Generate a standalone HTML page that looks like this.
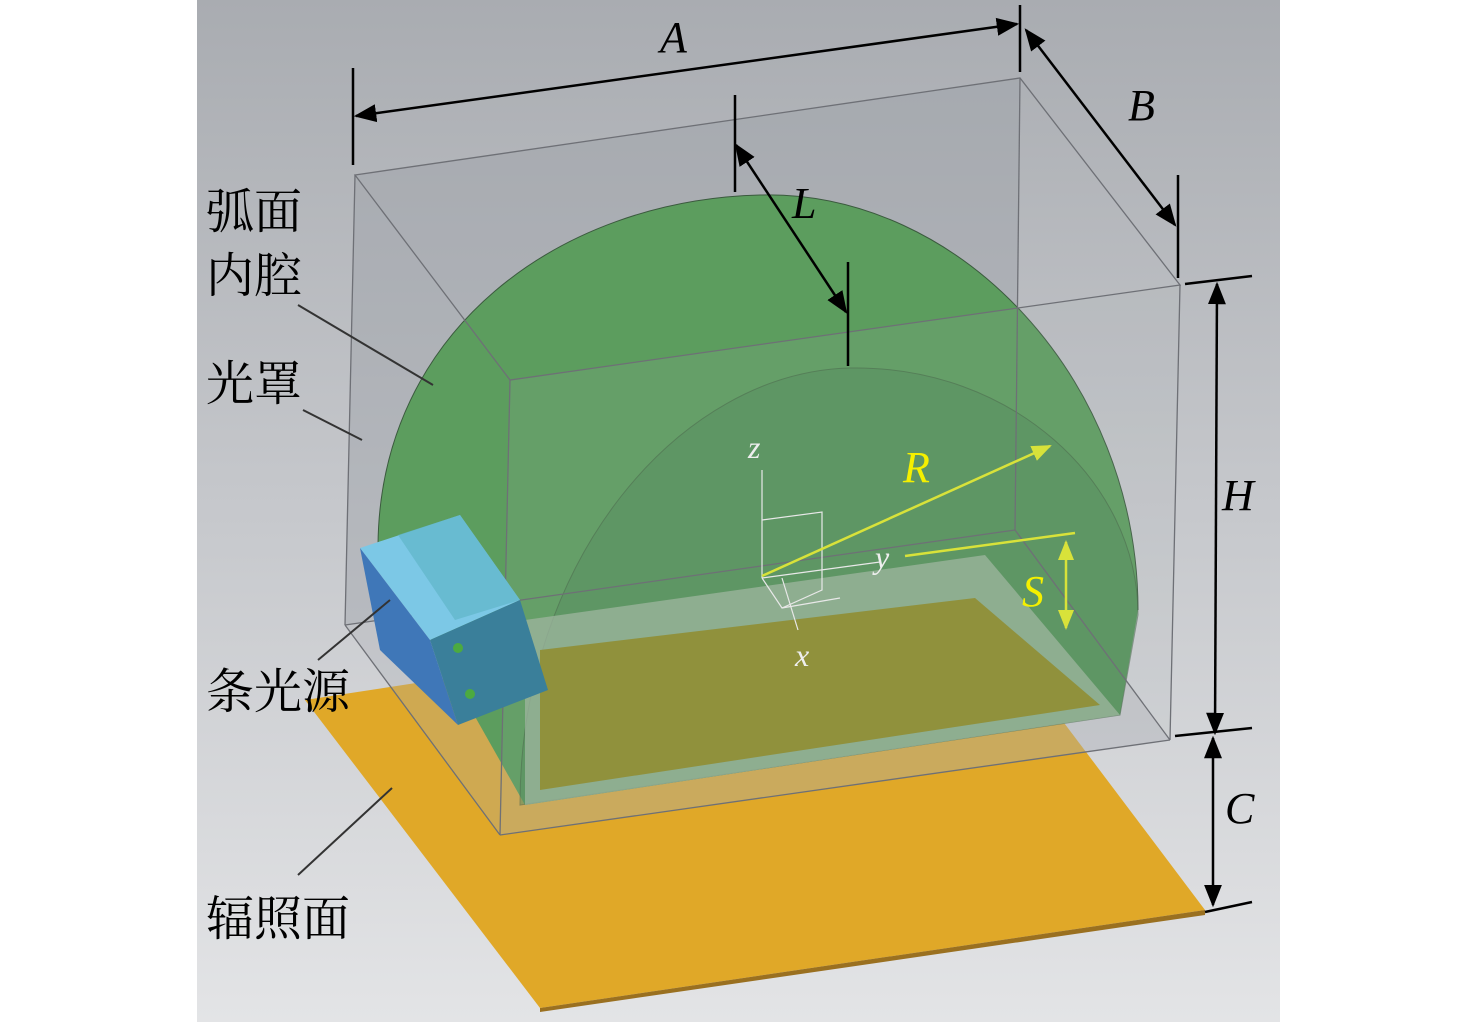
<!DOCTYPE html>
<html><head><meta charset="utf-8"><style>
html,body{margin:0;padding:0;background:#fff;}
svg{display:block}
</style></head><body>
<svg width="1476" height="1022" viewBox="0 0 1476 1022" xmlns="http://www.w3.org/2000/svg">
<defs>
<linearGradient id="bg" x1="0" y1="0" x2="0" y2="1">
<stop offset="0" stop-color="#a9acb1"/>
<stop offset="0.5" stop-color="#c6c8cc"/>
<stop offset="1" stop-color="#e3e4e6"/>
</linearGradient>
<marker id="ar" viewBox="0 0 10 10" refX="9" refY="5" markerWidth="9" markerHeight="9" orient="auto-start-reverse"><path d="M0,1 L10,5 L0,9 z" fill="#000"/></marker>
<marker id="ay" viewBox="0 0 10 10" refX="9" refY="5" markerWidth="8" markerHeight="8" orient="auto-start-reverse"><path d="M0,1 L10,5 L0,9 z" fill="#d8e23a"/></marker>
</defs>
<rect x="197" y="0" width="1083" height="1022" fill="url(#bg)"/>
<!-- irradiation plane -->
<polygon points="305,700 970,598 1205,910 540,1008" fill="#e0a828"/>
<polygon points="540,1008 1205,910 1205,915 540,1012" fill="#9a7020"/>
<!-- box back/base faces -->
<polygon points="355,175 1020,78 1015,530 345,625" fill="#9ea1a8" opacity="0.45"/>
<polygon points="345,625 1015,530 1170,740 500,835" fill="#a8acb2" opacity="0.3"/>
<!-- green dome -->
<path d="M378,545 C380,330 560,200 760,195 C960,190 1138,380 1138,610 L1120,715 L525,805 Z" fill="#5c9d5e"/>
<path d="M520,805 C520,560 680,372 850,368 C1010,365 1138,480 1138,615 L1120,715 Z" fill="#4f8a55" opacity="0.55" stroke="#3b5a3e" stroke-width="1"/>
<path d="M378,545 C380,330 560,200 760,195 C960,190 1138,380 1138,610" fill="none" stroke="#3b5a3e" stroke-width="1"/>
<!-- base inner strip -->
<polygon points="525,620 985,555 1120,715 525,805" fill="#9cb59c" opacity="0.75"/>
<polygon points="540,650 975,598 1100,705 540,790" fill="#8c8c2c"/>
<!-- box front faces -->
<polygon points="510,380 1180,285 1170,740 500,835" fill="#b0b3b8" opacity="0.12"/>
<g fill="none" stroke="#6e7076" stroke-width="1.3">
<polygon points="355,175 1020,78 1180,285 510,380"/>
<line x1="355" y1="175" x2="345" y2="625"/>
<line x1="1020" y1="78" x2="1015" y2="530"/>
<line x1="1180" y1="285" x2="1170" y2="740"/>
<line x1="510" y1="380" x2="500" y2="835"/>
<line x1="345" y1="625" x2="1015" y2="530"/>
<line x1="345" y1="625" x2="500" y2="835"/>
<line x1="500" y1="835" x2="1170" y2="740"/>
<line x1="1015" y1="530" x2="1170" y2="740"/>
</g>
<!-- light source -->
<polygon points="360,548 460,515 520,600 430,640" fill="#7cc8e6"/>
<polygon points="360,548 430,640 458,725 380,650" fill="#3f77b8"/>
<polygon points="430,640 520,600 548,690 458,725" fill="#3a7f9a"/>
<polygon points="398,535 460,515 520,600 455,620" fill="#5fb5c8" opacity="0.7"/>
<circle cx="458" cy="648" r="5" fill="#4caa40"/>
<circle cx="470" cy="694" r="5" fill="#4caa40"/>
<!-- axes -->
<g stroke="#e8e8e8" stroke-width="1.2" fill="none">
<line x1="762" y1="578" x2="762" y2="470"/>
<polyline points="762,520 822,512 822,590 782,608 762,578"/>
<line x1="782" y1="608" x2="840" y2="598"/>
<line x1="762" y1="578" x2="880" y2="562"/>
<line x1="782" y1="578" x2="798" y2="630"/>
</g>
<text x="748" y="458" font-family="Liberation Serif,serif" font-style="italic" font-size="32" fill="#eee">z</text>
<text x="875" y="568" font-family="Liberation Serif,serif" font-style="italic" font-size="32" fill="#eee">y</text>
<text x="795" y="666" font-family="Liberation Serif,serif" font-style="italic" font-size="32" fill="#eee">x</text>
<g stroke="#d8e23a" stroke-width="2.5">
<line x1="762" y1="576" x2="1050" y2="446" marker-end="url(#ay)"/>
<line x1="905" y1="556" x2="1075" y2="533"/>
<line x1="1066" y1="542" x2="1066" y2="628" marker-start="url(#ay)" marker-end="url(#ay)"/>
</g>
<text x="903" y="482" font-family="Liberation Serif,serif" font-style="italic" font-size="44" fill="#f5f000">R</text>
<text x="1022" y="606" font-family="Liberation Serif,serif" font-style="italic" font-size="44" fill="#f5f000">S</text>
<g stroke="#000" stroke-width="2.5" fill="none">
<line x1="353" y1="68" x2="353" y2="165"/>
<line x1="1020" y1="5" x2="1020" y2="72"/>
<line x1="356" y1="116" x2="1017" y2="24" marker-start="url(#ar)" marker-end="url(#ar)"/>
<line x1="1178" y1="175" x2="1178" y2="278"/>
<line x1="1026" y1="30" x2="1175" y2="225" marker-start="url(#ar)" marker-end="url(#ar)"/>
<line x1="735" y1="95" x2="735" y2="192"/>
<line x1="848" y1="262" x2="848" y2="366"/>
<line x1="736" y1="145" x2="846" y2="312" marker-start="url(#ar)" marker-end="url(#ar)"/>
<line x1="1185" y1="284" x2="1252" y2="276"/>
<line x1="1175" y1="736" x2="1252" y2="728"/>
<line x1="1217" y1="284" x2="1215" y2="733" marker-start="url(#ar)" marker-end="url(#ar)"/>
<line x1="1205" y1="912" x2="1252" y2="902"/>
<line x1="1213" y1="738" x2="1213" y2="905" marker-start="url(#ar)" marker-end="url(#ar)"/>
</g>
<g stroke="#333" stroke-width="2" fill="none">
<line x1="298" y1="305" x2="433" y2="385"/>
<line x1="303" y1="410" x2="362" y2="440"/>
<line x1="318" y1="660" x2="390" y2="600"/>
<line x1="298" y1="875" x2="392" y2="788"/>
</g>
<g font-family="Liberation Serif,serif" font-style="italic" font-size="44" fill="#000">
<text x="660" y="52">A</text>
<text x="1128" y="120">B</text>
<text x="792" y="218">L</text>
<text x="1222" y="510">H</text>
<text x="1225" y="823">C</text>
</g>
<g font-family="'Noto Serif CJK SC','Noto Sans CJK SC',serif" font-size="48" fill="#000">
<text x="206" y="228">弧面</text>
<text x="206" y="292">内腔</text>
<text x="206" y="400">光罩</text>
<text x="206" y="708">条光源</text>
<text x="206" y="935">辐照面</text>
</g>
</svg>
</body></html>
